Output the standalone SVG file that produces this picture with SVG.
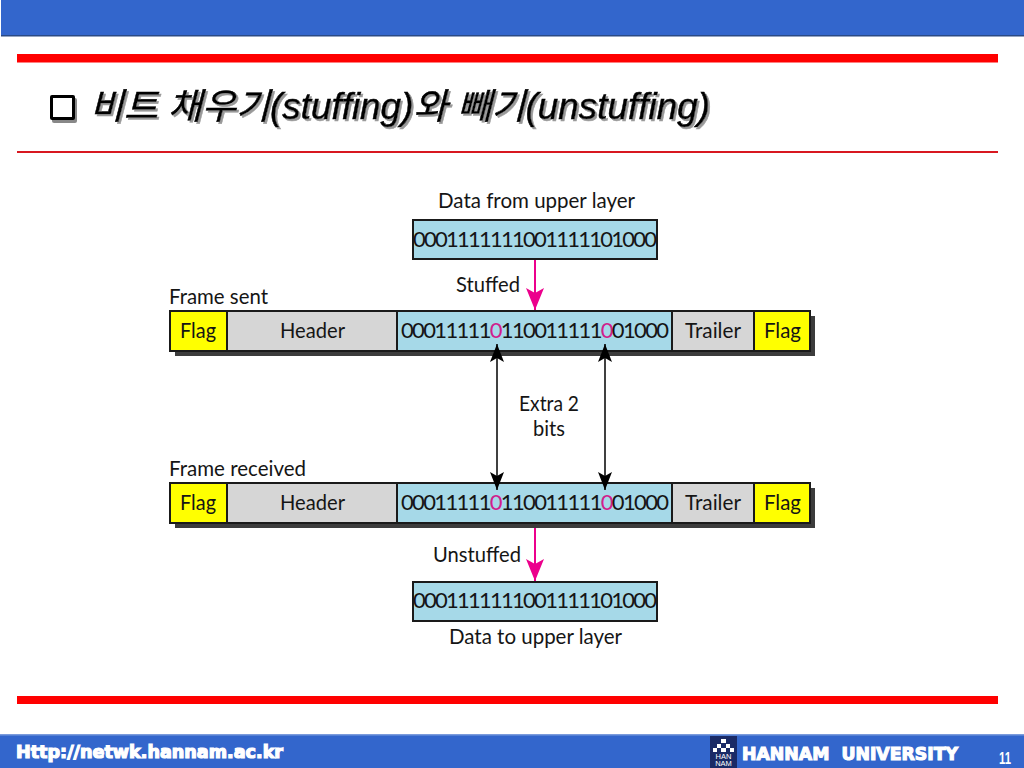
<svg xmlns="http://www.w3.org/2000/svg" width="1024" height="768" viewBox="0 0 1024 768">
<style>
.t{font-family:Lato,"Noto Sans","Liberation Sans",sans-serif;font-size:20.500px;fill:#151515}
.d{font-size:22px}
.p{fill:#d0208c}
.s{stroke:#1a1a1a;stroke-width:2}
.blue{fill:#a6d9e8}.gray{fill:#d6d6d6}.yel{fill:#ffff00}
.ttl{font-family:"Liberation Sans","Noto Sans CJK KR",sans-serif;font-size:36px;font-style:italic;fill:#000;stroke:#000;stroke-width:.5;filter:url(#sh)}
.foot{font-family:"DejaVu Sans","Liberation Sans",sans-serif;font-weight:bold;fill:#fff;stroke:#fff;stroke-width:1.2}
</style>
<defs>
<filter id="sh" x="-5%" y="-20%" width="110%" height="140%"><feDropShadow dx="2" dy="2" stdDeviation=".4" flood-color="#999"/></filter>
<marker id="ap" markerUnits="userSpaceOnUse" markerWidth="24" markerHeight="20" refX="22" refY="9" orient="auto"><path d="M0 0L22 9L0 18L5 9Z" fill="#ec008c"/></marker>
<marker id="ab" markerUnits="userSpaceOnUse" markerWidth="20" markerHeight="16" refX="18" refY="7" orient="auto-start-reverse"><path d="M0 0L18 7L0 14L4 7Z" fill="#000"/></marker>
</defs>
<rect width="1024" height="768" fill="#fff"/>
<rect id="top-band" x="1" y="0" width="1023" height="36" fill="#3366cc"/>
<rect x="1" y="35" width="1023" height="1.500" fill="#2a4a85"/>
<rect x="17" y="54" width="981" height="8.500" fill="#ff0000"/>
<rect x="17" y="151" width="981" height="2" fill="#d81820"/>
<g id="title">
<rect x="52" y="98" width="25" height="25" rx="2" fill="#888"/>
<rect x="50" y="95" width="25" height="25" rx="2" fill="#000"/>
<rect x="53" y="98" width="19" height="19" fill="#fff"/>
<text class="ttl" x="90" y="119" textLength="620" lengthAdjust="spacingAndGlyphs">비트 채우기(stuffing)와 빼기(unstuffing)</text>
</g>
<g id="data-top">
<text class="t" x="438" y="208" textLength="197" lengthAdjust="spacingAndGlyphs">Data from upper layer</text>
<rect class="blue s" x="413" y="220" width="244" height="39"/>
<text class="t d" x="413" y="247" textLength="244" lengthAdjust="spacing">0001111111001111101000</text>
</g>
<g id="frame-sent">
<text class="t" x="169" y="304" textLength="99" lengthAdjust="spacingAndGlyphs">Frame sent</text>
<rect x="175" y="316" width="640" height="40" fill="#3c3c3c"/>
<rect class="yel s" x="170" y="311" width="57" height="40"/>
<rect class="gray s" x="227" y="311" width="170" height="40"/>
<rect class="blue s" x="397" y="311" width="275" height="40"/>
<rect class="gray s" x="672" y="311" width="82" height="40"/>
<rect class="yel s" x="754" y="311" width="56" height="40"/>
<text class="t" x="180" y="338" textLength="36" lengthAdjust="spacingAndGlyphs">Flag</text>
<text class="t" x="280" y="338" textLength="65" lengthAdjust="spacingAndGlyphs">Header</text>
<text class="t d" x="401" y="338" textLength="268" lengthAdjust="spacing">00011111<tspan class="p">0</tspan>110011111<tspan class="p">0</tspan>01000</text>
<text class="t" x="685" y="338" textLength="56" lengthAdjust="spacingAndGlyphs">Trailer</text>
<text class="t" x="764" y="338" textLength="37" lengthAdjust="spacingAndGlyphs">Flag</text>
</g>
<g id="frame-received">
<text class="t" x="169" y="476" textLength="137" lengthAdjust="spacingAndGlyphs">Frame received</text>
<rect x="175" y="488" width="640" height="40" fill="#3c3c3c"/>
<rect class="yel s" x="170" y="483" width="57" height="40"/>
<rect class="gray s" x="227" y="483" width="170" height="40"/>
<rect class="blue s" x="397" y="483" width="275" height="40"/>
<rect class="gray s" x="672" y="483" width="82" height="40"/>
<rect class="yel s" x="754" y="483" width="56" height="40"/>
<text class="t" x="180" y="510" textLength="36" lengthAdjust="spacingAndGlyphs">Flag</text>
<text class="t" x="280" y="510" textLength="65" lengthAdjust="spacingAndGlyphs">Header</text>
<text class="t d" x="401" y="510" textLength="268" lengthAdjust="spacing">00011111<tspan class="p">0</tspan>110011111<tspan class="p">0</tspan>01000</text>
<text class="t" x="685" y="510" textLength="56" lengthAdjust="spacingAndGlyphs">Trailer</text>
<text class="t" x="764" y="510" textLength="37" lengthAdjust="spacingAndGlyphs">Flag</text>
</g>
<g id="connectors" fill="none">
<path d="M535 260V310" stroke="#ec008c" stroke-width="2" marker-end="url(#ap)"/>
<path d="M535 528V581" stroke="#ec008c" stroke-width="2" marker-end="url(#ap)"/>
<path d="M497 344V490" stroke="#000" stroke-width="1.500" marker-start="url(#ab)" marker-end="url(#ab)"/>
<path d="M605 344V490" stroke="#000" stroke-width="1.500" marker-start="url(#ab)" marker-end="url(#ab)"/>
</g>
<g id="labels">
<text class="t" x="456" y="292" textLength="64" lengthAdjust="spacingAndGlyphs">Stuffed</text>
<text class="t" x="519" y="411" textLength="60" lengthAdjust="spacingAndGlyphs">Extra 2</text>
<text class="t" x="533" y="436" textLength="32" lengthAdjust="spacingAndGlyphs">bits</text>
<text class="t" x="433" y="562" textLength="88" lengthAdjust="spacingAndGlyphs">Unstuffed</text>
</g>
<g id="data-bottom">
<rect class="blue s" x="413" y="582" width="244" height="39"/>
<text class="t d" x="413" y="608" textLength="244" lengthAdjust="spacing">0001111111001111101000</text>
<text class="t" x="449" y="644" textLength="173" lengthAdjust="spacingAndGlyphs">Data to upper layer</text>
</g>
<rect x="17" y="696" width="981" height="8" fill="#ff0000"/>
<g id="footer">
<rect x="0" y="734" width="1024" height="34" fill="#3366cc"/>
<rect x="0" y="734" width="1024" height="1.500" fill="#7b9bdc"/>
<text class="foot" x="16" y="758" font-size="17" textLength="267" lengthAdjust="spacingAndGlyphs">Http://netwk.hannam.ac.kr</text>
<g id="logo">
<rect x="710" y="736" width="27" height="32" fill="#1a2a66"/>
<path d="M721 739h5v4h-5zM717 744h4v4h-4zM726 744h4v4h-4zM721 748h5v4h-5zM713 748h4v4h-4zM730 748h4v4h-4z" fill="#fff"/>
<text x="723.500" y="759" text-anchor="middle" font-family="'Liberation Sans',sans-serif" font-size="7.500" fill="#fff">HAN</text>
<text x="723.500" y="766" text-anchor="middle" font-family="'Liberation Sans',sans-serif" font-size="7.500" fill="#fff">NAM</text>
</g>
<text class="foot" x="742" y="760" font-size="18" textLength="216" lengthAdjust="spacingAndGlyphs" xml:space="preserve">HANNAM  UNIVERSITY</text>
<text x="999" y="764" font-family="'Liberation Sans',sans-serif" font-size="17" font-weight="bold" textLength="12" lengthAdjust="spacingAndGlyphs" fill="#fff">11</text>
</g>
</svg>
